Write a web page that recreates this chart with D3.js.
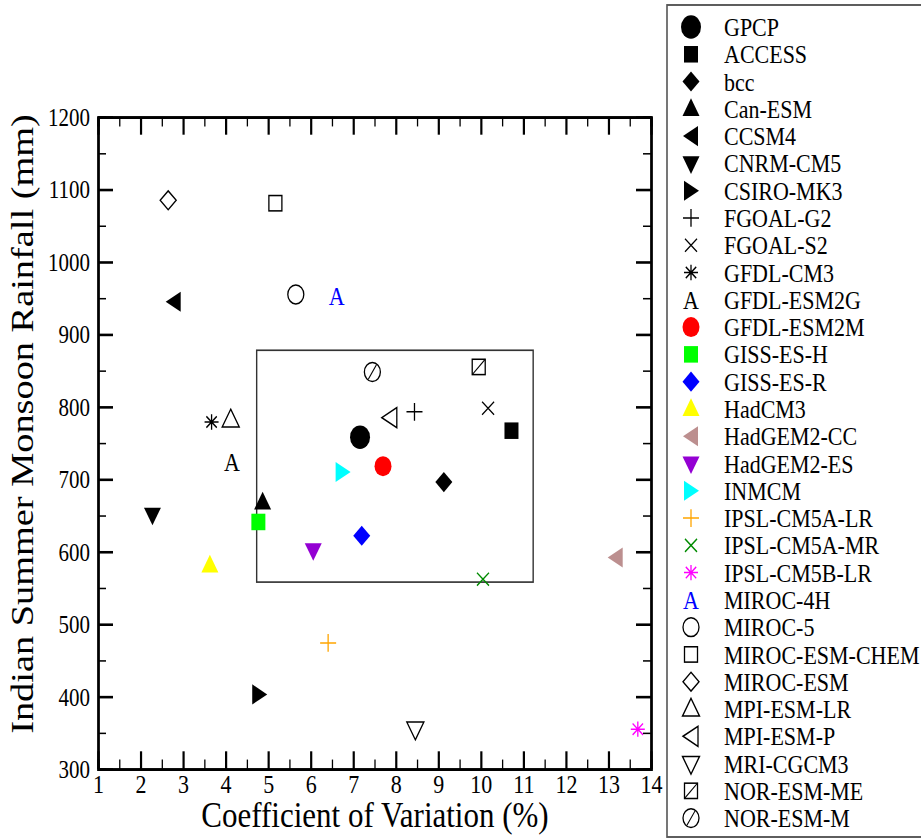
<!DOCTYPE html>
<meta charset="utf-8">
<script src="https://d3js.org/d3.v7.min.js"></script>
<style>
  body { margin: 0; background: #fff; }
  text { font-family: "Liberation Serif", "Times New Roman", serif; fill: #000; }
</style>
<div id="my_dataviz"></div>
<script>

// model names, coefficient of variation (%) and rainfall (mm)
var models = ["GPCP", "ACCESS", "bcc", "Can-ESM", "CCSM4", "CNRM-CM5", "CSIRO-MK3",
  "FGOAL-G2", "FGOAL-S2", "GFDL-CM3", "GFDL-ESM2G", "GFDL-ESM2M", "GISS-ES-H",
  "GISS-ES-R", "HadCM3", "HadGEM2-CC", "HadGEM2-ES", "INMCM", "IPSL-CM5A-LR",
  "IPSL-CM5A-MR", "IPSL-CM5B-LR", "MIROC-4H", "MIROC-5", "MIROC-ESM-CHEM",
  "MIROC-ESM", "MPI-ESM-LR", "MPI-ESM-P", "MRI-CGCM3", "NOR-ESM-ME", "NOR-ESM-M"];
var cv = [7.16, 10.72, 9.13, 4.87, 2.78, 2.28, 4.79,
  8.44, 10.17, 3.67, 4.15, 7.70, 4.77,
  7.20, 3.63, 13.17, 6.06, 6.75, 6.41,
  10.05, 13.69, 6.61, 5.65, 5.17,
  2.65, 4.12, 7.86, 8.46, 9.95, 7.45];
var rainfall = [758, 767, 696, 668, 945, 651, 403,
  793, 798, 779, 724, 718, 641,
  622, 581, 592, 602, 710, 474,
  562, 355, 953, 955, 1081,
  1085, 782, 785, 355, 855, 848];
var shapes = ["circle", "square", "diamond", "up", "left", "down", "right",
  "plus", "cross", "star", "char", "circle", "square",
  "diamond", "up", "left", "down", "right", "plus",
  "cross", "star", "char", "ocircle", "osquare",
  "odiamond", "oup", "oleft", "odown", "hsquare", "hcircle"];
var colors = ["#000", "#000", "#000", "#000", "#000", "#000", "#000",
  "#000", "#000", "#000", "#000", "#ff0000", "#00ff00",
  "#0000ff", "#ffff00", "#bc8f8f", "#9400d3", "#00ffff", "#ffa500",
  "#008b00", "#ff00ff", "#0000ff", "#000", "#000",
  "#000", "#000", "#000", "#000", "#000", "#000"];
var xTicks = [1, 2, 3, 4, 5, 6, 7, 8, 9, 10, 11, 12, 13, 14];
var yTicks = [300, 400, 500, 600, 700, 800, 900, 1000, 1100, 1200];
// the box around the cluster of models near the observations
var boxCv = [4.73, 11.23];
var boxRain = [558, 878];

var W = 921, H = 840, SY = 1.18;  // picture is stretched vertically

var svg = d3.select("#my_dataviz").append("svg")
  .attr("width", W).attr("height", H);
var root = svg.append("g").attr("transform", "scale(1," + SY + ")");

var pLeft = 98, pRight = 651, pTop = 117 / SY, pBottom = 769 / SY;

var x = d3.scaleLinear().domain([1, 14]).range([pLeft, pRight]);
var y = d3.scaleLinear().domain([300, 1200]).range([pBottom, pTop]);

var minorX = d3.range(1.5, 14, 1);
var minorY = d3.range(350, 1200, 100);

function styleAxis(g, w) {
  g.select(".domain").attr("stroke-width", 2.3).attr("stroke", "#000");
  g.selectAll(".tick line").attr("stroke-width", w).attr("stroke", "#000");
}

// minor ticks
root.append("g").attr("transform", "translate(0," + pBottom + ")")
  .call(d3.axisBottom(x).tickValues(minorX).tickSize(-8).tickFormat(""))
  .call(styleAxis, 1.3);
root.append("g").attr("transform", "translate(0," + pTop + ")")
  .call(d3.axisTop(x).tickValues(minorX).tickSize(-8).tickFormat(""))
  .call(styleAxis, 1.3);
root.append("g").attr("transform", "translate(" + pLeft + ",0)")
  .call(d3.axisLeft(y).tickValues(minorY).tickSize(-8).tickFormat(""))
  .call(styleAxis, 1.3);
root.append("g").attr("transform", "translate(" + pRight + ",0)")
  .call(d3.axisRight(y).tickValues(minorY).tickSize(-8).tickFormat(""))
  .call(styleAxis, 1.3);

// major ticks
var xb = root.append("g").attr("transform", "translate(0," + pBottom + ")")
  .call(d3.axisBottom(x).tickValues(xTicks).tickSizeInner(-15).tickSizeOuter(0).tickFormat(d3.format("d")))
  .call(styleAxis, 2.2);
xb.selectAll(".tick text").attr("y", 20).attr("dy", 0).attr("font-size", 22)
  .attr("font-family", "Liberation Serif").attr("fill", "#000");

var yl = root.append("g").attr("transform", "translate(" + pLeft + ",0)")
  .call(d3.axisLeft(y).tickValues(yTicks).tickSizeInner(-15).tickSizeOuter(0).tickPadding(8).tickFormat(d3.format("d")))
  .call(styleAxis, 2.2);
yl.selectAll(".tick text").attr("font-size", 21).attr("dy", "0.34em")
  .attr("font-family", "Liberation Serif").attr("fill", "#000");

root.append("g").attr("transform", "translate(0," + pTop + ")")
  .call(d3.axisTop(x).tickValues(xTicks).tickSizeInner(-15).tickSizeOuter(0).tickFormat(""))
  .call(styleAxis, 2.2);
root.append("g").attr("transform", "translate(" + pRight + ",0)")
  .call(d3.axisRight(y).tickValues(yTicks).tickSizeInner(-15).tickSizeOuter(0).tickFormat(""))
  .call(styleAxis, 2.2);

// axis titles
root.append("text")
  .attr("x", 375).attr("y", 701)
  .attr("text-anchor", "middle").attr("font-size", 31)
  .text("Coefficient of Variation (%)");
root.append("text")
  .attr("transform", "translate(33," + (424 / SY) + ") rotate(-90)")
  .attr("text-anchor", "middle").attr("font-size", 32.5)
  .text("Indian Summer Monsoon Rainfall (mm)");

// inner box
root.append("rect")
  .attr("x", x(boxCv[0])).attr("y", y(boxRain[1]))
  .attr("width", x(boxCv[1]) - x(boxCv[0]))
  .attr("height", y(boxRain[0]) - y(boxRain[1]))
  .attr("fill", "none").attr("stroke", "#333").attr("stroke-width", 1.4);

// symbol painter
function drawSymbol(g, type, color, big) {
  var lw = 1.3;
  if (type === "circle") {
    g.append("circle").attr("r", big ? 10 : 8.5).attr("fill", color);
  } else if (type === "square") {
    g.append("rect").attr("x", -7).attr("y", -7).attr("width", 14).attr("height", 14).attr("fill", color);
  } else if (type === "diamond") {
    g.append("path").attr("d", "M0,-8.5L8.5,0L0,8.5L-8.5,0Z").attr("fill", color);
  } else if (type === "up" || type === "oup") {
    g.append("path").attr("d", "M0,-9L8.5,6L-8.5,6Z")
      .attr("fill", type === "up" ? color : "none").attr("stroke", type === "up" ? "none" : color).attr("stroke-width", lw);
  } else if (type === "down" || type === "odown") {
    g.append("path").attr("d", "M0,9L8.5,-6L-8.5,-6Z")
      .attr("fill", type === "down" ? color : "none").attr("stroke", type === "down" ? "none" : color).attr("stroke-width", lw);
  } else if (type === "left" || type === "oleft") {
    g.append("path").attr("d", "M-8,0L7,-8.5L7,8.5Z")
      .attr("fill", type === "left" ? color : "none").attr("stroke", type === "left" ? "none" : color).attr("stroke-width", lw);
  } else if (type === "right") {
    g.append("path").attr("d", "M8,0L-7,-8.5L-7,8.5Z").attr("fill", color);
  } else if (type === "plus") {
    g.append("path").attr("d", "M-8,0H8M0,-7.5V7.5").attr("stroke", color).attr("stroke-width", lw);
  } else if (type === "cross") {
    g.append("path").attr("d", "M-6,-5.5L6,5.5M-6,5.5L6,-5.5").attr("stroke", color).attr("stroke-width", lw);
  } else if (type === "star") {
    g.append("path").attr("d", "M-7,0H7M0,-6.5V6.5M-5.2,-4.8L5.2,4.8M-5.2,4.8L5.2,-4.8")
      .attr("stroke", color).attr("stroke-width", lw);
  } else if (type === "char") {
    g.append("text").attr("text-anchor", "middle").attr("dy", "0.36em")
      .attr("font-size", 22).style("fill", color).text("A");
  } else if (type === "ocircle" || type === "hcircle") {
    g.append("circle").attr("r", 8).attr("fill", "none").attr("stroke", color).attr("stroke-width", lw);
    if (type === "hcircle")
      g.append("path").attr("d", "M-4,6L4,-6").attr("stroke", color).attr("stroke-width", 1);
  } else if (type === "osquare" || type === "hsquare") {
    g.append("rect").attr("x", -6.5).attr("y", -6.5).attr("width", 13).attr("height", 13)
      .attr("fill", "none").attr("stroke", color).attr("stroke-width", lw);
    if (type === "hsquare")
      g.append("path").attr("d", "M-6.5,6.5L6.5,-6.5").attr("stroke", color).attr("stroke-width", 1);
  } else if (type === "odiamond") {
    g.append("path").attr("d", "M0,-8L8,0L0,8L-8,0Z").attr("fill", "none")
      .attr("stroke", color).attr("stroke-width", lw);
  }
}

// points
root.append("g").selectAll("g")
  .data(models)
  .enter().append("g")
  .attr("transform", function(d, i) { return "translate(" + x(cv[i]) + "," + y(rainfall[i]) + ")"; })
  .each(function(d, i) { drawSymbol(d3.select(this), shapes[i], colors[i], i === 0); });

// legend
var legY0 = 27 / SY, legStep = 27.28 / SY;
root.append("rect")
  .attr("x", 667).attr("y", 5 / SY).attr("width", 300).attr("height", 832 / SY)
  .attr("fill", "none").attr("stroke", "#555").attr("stroke-width", 1.6);

var leg = root.append("g").selectAll("g")
  .data(models)
  .enter().append("g")
  .attr("transform", function(d, i) { return "translate(0," + (legY0 + i * legStep) + ")"; });
leg.each(function(d, i) {
  var s = d3.select(this).append("g").attr("transform", "translate(691,0)");
  drawSymbol(s, shapes[i], colors[i], i === 0);
});
leg.append("text")
  .attr("x", 724).attr("dy", "0.35em").attr("font-size", 22)
  .text(function(d) { return d; });

</script>
